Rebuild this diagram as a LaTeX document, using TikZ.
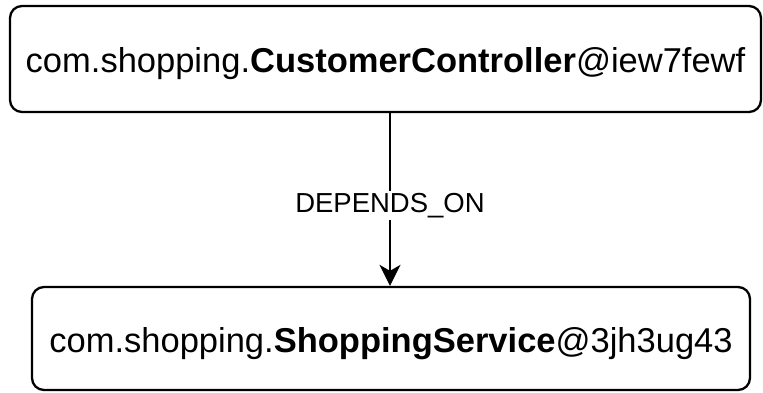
\documentclass[tikz,border=0pt]{standalone}
\usepackage{fontspec}
\setmainfont{Liberation Sans}
\usetikzlibrary{arrows.meta}
\begin{document}
\begin{tikzpicture}[x=1bp,y=-1bp,
  box/.style={draw=black, line width=2.3bp, rounded corners=12bp, fill=white, inner sep=0pt, font=\fontsize{34.5bp}{40bp}\selectfont},
  lbl/.style={fill=white, inner sep=2bp, font=\fontsize{27.5bp}{32bp}\selectfont},
  conn/.style={draw=black, line width=2.3bp, -{Stealth[length=21bp,width=21bp,inset=6bp]}}]
\useasboundingbox (0,0) rectangle (763,392);
\node[box, minimum width=751bp, minimum height=106bp] (top) at (385.5,59) {\raisebox{-5bp}[\height][\depth]{com.shopping.\textbf{CustomerController}@iew7fewf}};
\node[box, minimum width=718bp, minimum height=103bp] (bot) at (391,338.5) {\raisebox{-5bp}[\height][\depth]{com.shopping.\textbf{ShoppingService}@3jh3ug43}};
\coordinate (s) at (390,112);
\coordinate (e) at (390,287);
\draw[conn] (top.south -| s) -- node[lbl, pos=0.535] (l) {DEPENDS\_ON} (bot.north -| e);
\end{tikzpicture}
\end{document}
